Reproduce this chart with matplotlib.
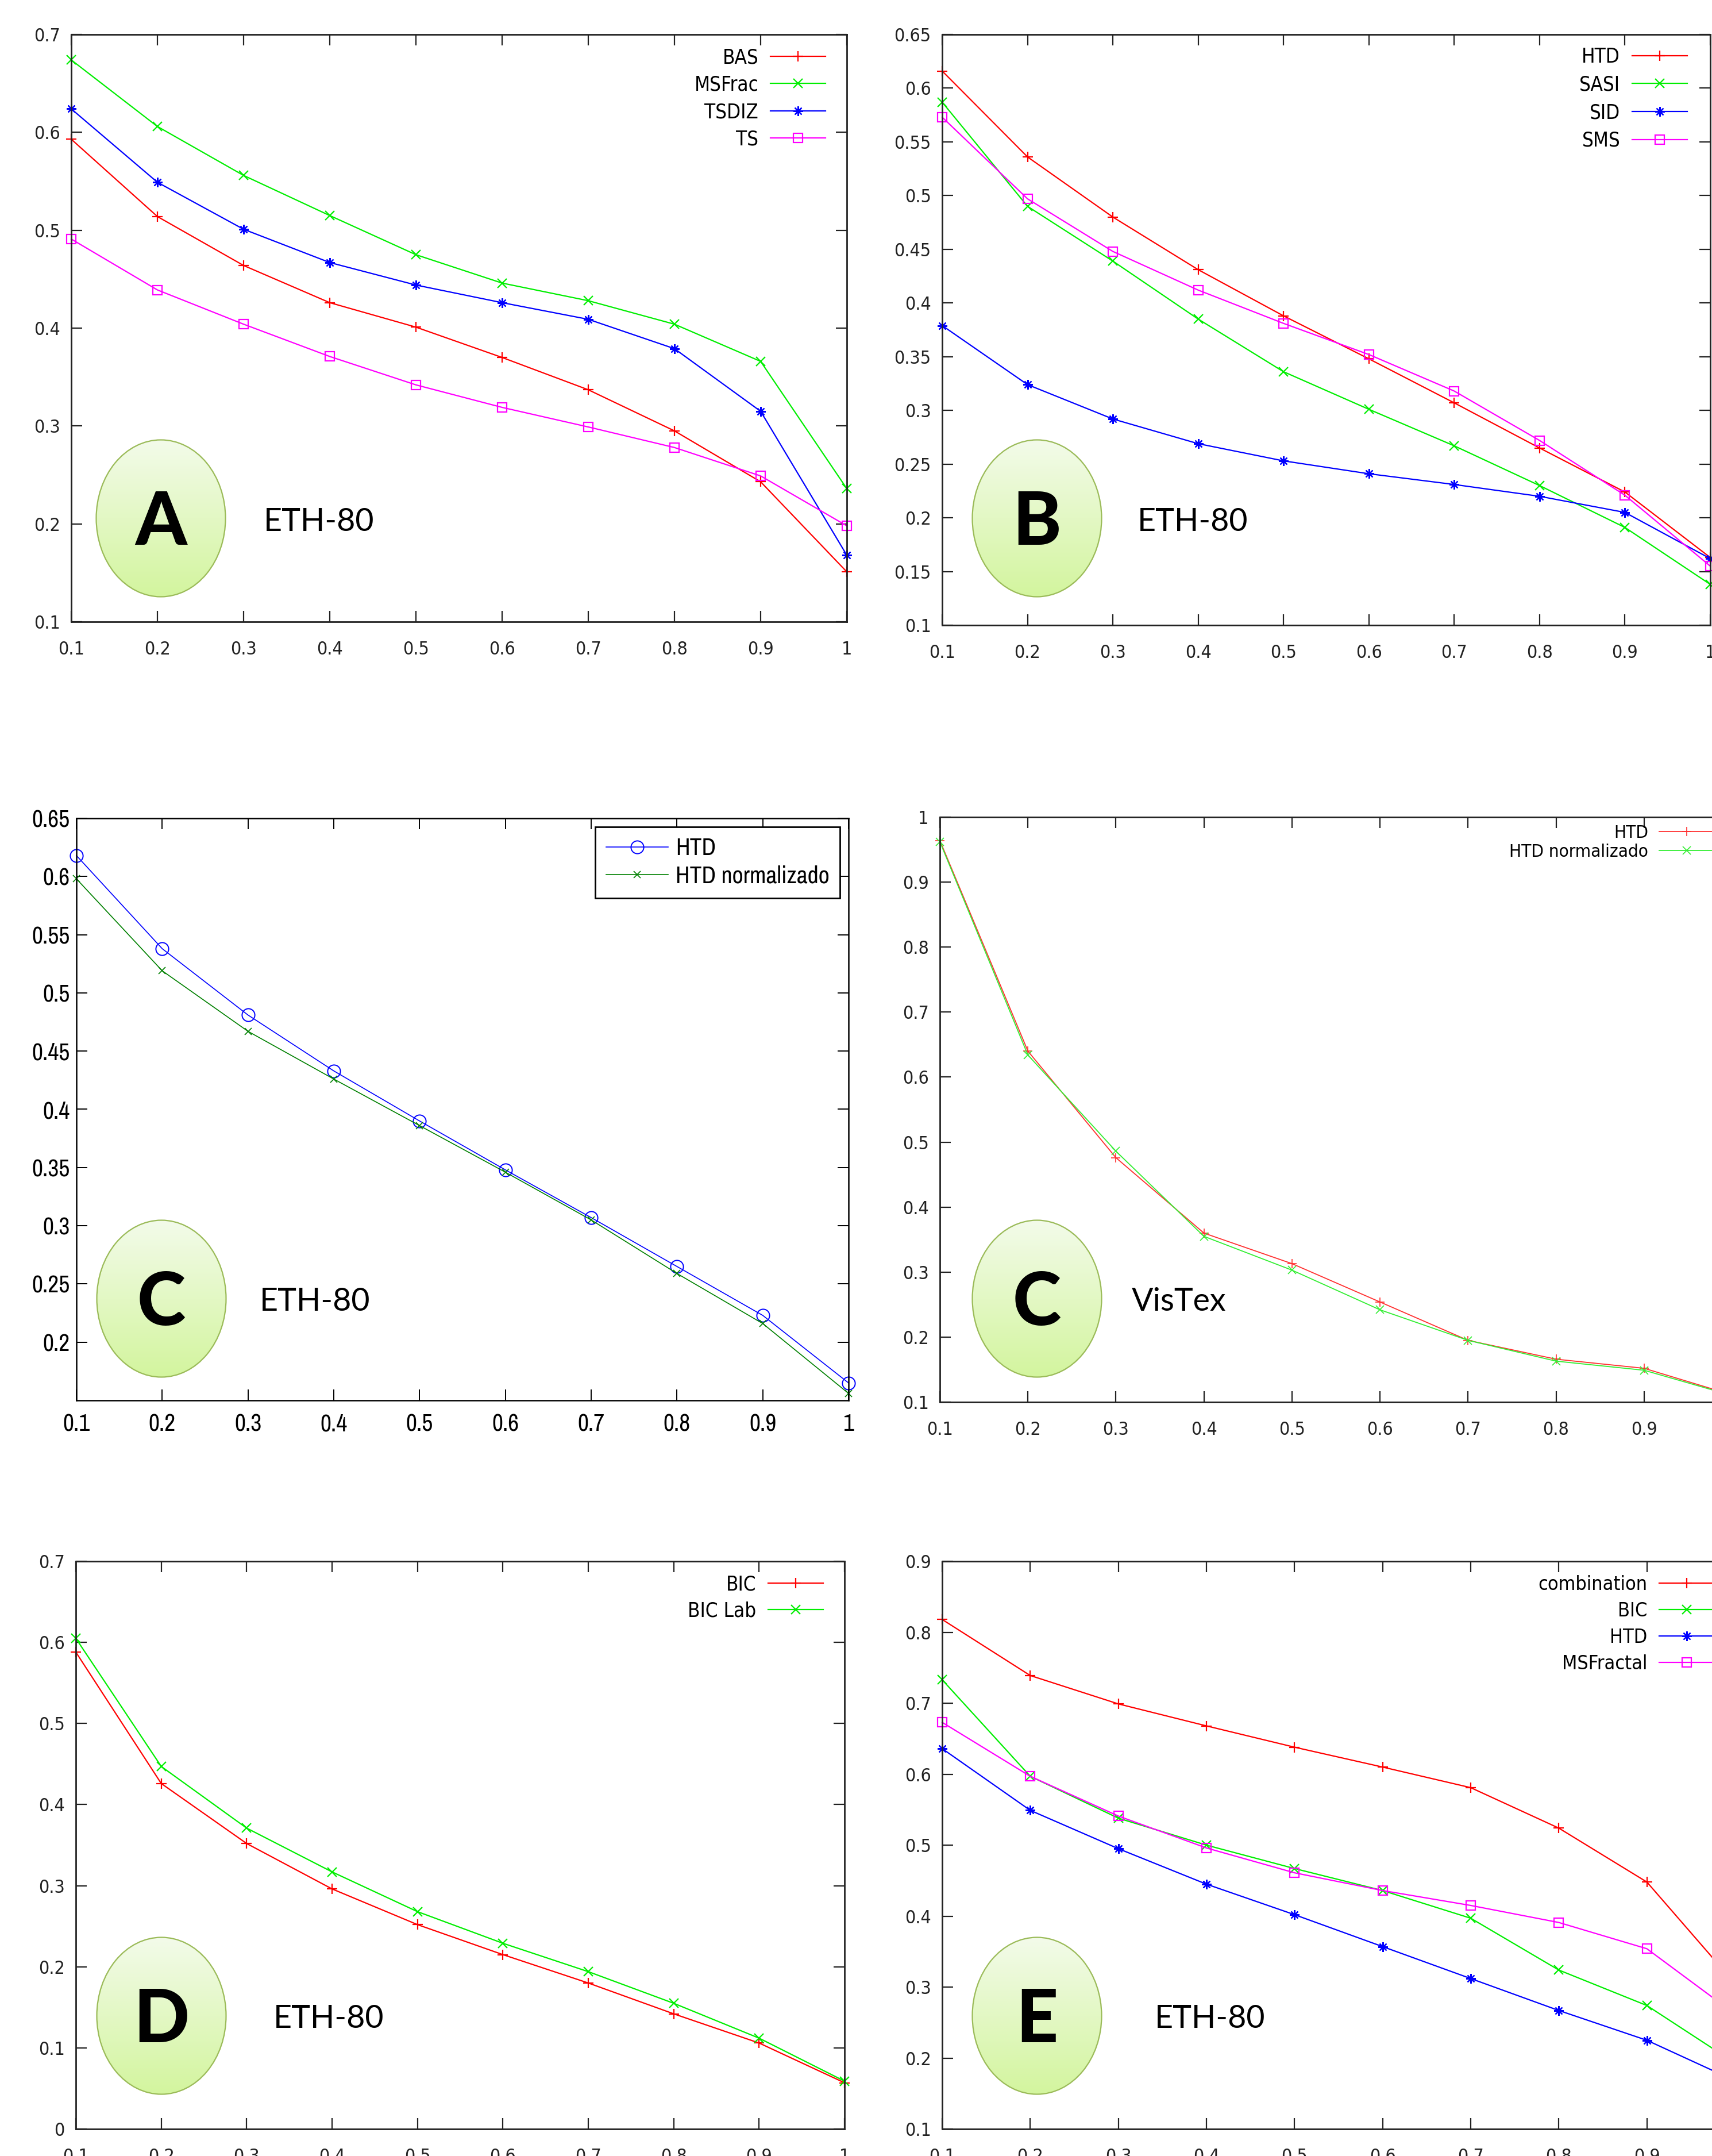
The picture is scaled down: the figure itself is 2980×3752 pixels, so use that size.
import matplotlib
matplotlib.use("Agg")
import matplotlib.pyplot as plt
import numpy as np
from matplotlib.patches import Ellipse
from matplotlib.ticker import FuncFormatter
from matplotlib.colors import LinearSegmentedColormap

W, H = 2980, 3752

recall = [0.1, 0.2, 0.3, 0.4, 0.5, 0.6, 0.7, 0.8, 0.9, 1.0]

# panel A (ETH-80)
a_bas = [0.593, 0.514, 0.464, 0.426, 0.401, 0.370, 0.337, 0.295, 0.243, 0.151]
a_msfrac = [0.674, 0.606, 0.556, 0.515, 0.475, 0.446, 0.428, 0.404, 0.366, 0.236]
a_tsdiz = [0.624, 0.549, 0.501, 0.467, 0.444, 0.426, 0.409, 0.379, 0.315, 0.168]
a_ts = [0.491, 0.439, 0.404, 0.371, 0.342, 0.319, 0.299, 0.278, 0.249, 0.198]

# panel B (ETH-80)
b_htd = [0.616, 0.536, 0.480, 0.431, 0.388, 0.348, 0.307, 0.265, 0.224, 0.163]
b_sasi = [0.587, 0.490, 0.439, 0.385, 0.336, 0.301, 0.267, 0.230, 0.191, 0.138]
b_sid = [0.379, 0.324, 0.292, 0.269, 0.253, 0.241, 0.231, 0.220, 0.205, 0.162]
b_sms = [0.573, 0.497, 0.448, 0.412, 0.381, 0.352, 0.318, 0.272, 0.221, 0.155]

# panel C (ETH-80, matlab style)
c1_htd = [0.618, 0.538, 0.481, 0.433, 0.390, 0.348, 0.307, 0.265, 0.223, 0.165]
c1_norm = [0.598, 0.519, 0.467, 0.426, 0.386, 0.346, 0.305, 0.259, 0.216, 0.156]

# panel C (VisTex)
c2_htd = [0.964, 0.640, 0.476, 0.360, 0.313, 0.254, 0.195, 0.166, 0.152, 0.111]
c2_norm = [0.962, 0.634, 0.486, 0.355, 0.303, 0.242, 0.195, 0.163, 0.149, 0.110]

# panel D (ETH-80)
d_bic = [0.588, 0.426, 0.352, 0.296, 0.252, 0.215, 0.180, 0.142, 0.106, 0.057]
d_biclab = [0.605, 0.447, 0.371, 0.317, 0.268, 0.229, 0.194, 0.155, 0.112, 0.059]

# panel E (ETH-80)
e_comb = [0.818, 0.739, 0.699, 0.668, 0.638, 0.610, 0.581, 0.524, 0.448, 0.305]
e_bic = [0.733, 0.597, 0.538, 0.500, 0.467, 0.436, 0.397, 0.324, 0.274, 0.193]
e_htd = [0.636, 0.549, 0.495, 0.445, 0.402, 0.357, 0.312, 0.267, 0.225, 0.168]
e_msfractal = [0.673, 0.597, 0.541, 0.496, 0.461, 0.436, 0.415, 0.391, 0.354, 0.262]

RED, GREEN, BLUE, MAGENTA = '#ff0000', '#00ee00', '#0000ff', '#ff00ff'
ASTER = (8, 2, 0)

plt.rcParams['font.family'] = 'DejaVu Sans'
plt.rcParams['font.stretch'] = 'condensed'

fig = plt.figure(figsize=(W / 100, H / 100), dpi=100)
fmt = FuncFormatter(lambda v, p: f"{v:g}")


def rect(l, t, r, b):
    return [l / W, 1 - b / H, (r - l) / W, (b - t) / H]


def gnuplot_axes(box, ylim, yticks):
    ax = fig.add_axes(rect(*box))
    ax.set_xlim(0.1, 1.0)
    ax.set_ylim(*ylim)
    ax.set_xticks(recall)
    ax.set_yticks(yticks)
    ax.xaxis.set_major_formatter(fmt)
    ax.yaxis.set_major_formatter(fmt)
    ax.tick_params(direction='in', length=14, width=1.6, top=True, right=True,
                   labelsize=23, colors='#222222')
    ax.tick_params(axis='x', pad=24)
    ax.tick_params(axis='y', pad=14)
    for s in ax.spines.values():
        s.set_linewidth(2.0)
        s.set_color('#222222')
    ax.box_px = box
    return ax


def gline(ax, y, color, marker, label, ms=13):
    mfc = 'none' if marker == 's' else color
    ax.plot(recall, y, color=color, lw=1.6, marker=marker, ms=ms, mew=1.6,
            mfc=mfc, label=label, clip_on=False)


def glegend(ax, size, spacing, dx, dy):
    # dx, dy: pixel offsets of the legend's top-right corner from the axes corner
    l, t, r, b = ax.box_px
    anchor = (1 - dx / (r - l), 1 - dy / (b - t))
    ax.legend(loc='upper right', bbox_to_anchor=anchor, frameon=False, markerfirst=False,
              fontsize=size, handlelength=96 / (size * 100 / 72), handletextpad=0.6,
              labelspacing=spacing, borderpad=0, borderaxespad=0)


# A
ax = gnuplot_axes((124, 60, 1474, 1082), (0.1, 0.7), [0.1, 0.2, 0.3, 0.4, 0.5, 0.6, 0.7])
gline(ax, a_bas, RED, '+', 'BAS')
gline(ax, a_msfrac, GREEN, 'x', 'MSFrac', ms=11)
gline(ax, a_tsdiz, BLUE, ASTER, 'TSDIZ', ms=12)
gline(ax, a_ts, MAGENTA, 's', 'TS', ms=11)
glegend(ax, 25, 0.39, 37, 23)

# B
ax = gnuplot_axes((1640, 60, 2977, 1088), (0.1, 0.65),
                  [0.1, 0.15, 0.2, 0.25, 0.3, 0.35, 0.4, 0.45, 0.5, 0.55, 0.6, 0.65])
gline(ax, b_htd, RED, '+', 'HTD')
gline(ax, b_sasi, GREEN, 'x', 'SASI', ms=11)
gline(ax, b_sid, BLUE, ASTER, 'SID', ms=12)
gline(ax, b_sms, MAGENTA, 's', 'SMS', ms=11)
glegend(ax, 25, 0.42, 40, 22)

# C left, matlab look
narrow = ['Archivo Narrow', 'PT Sans Narrow', 'DejaVu Sans']
ax = fig.add_axes(rect(133, 1424, 1477, 2437))
ax.set_xlim(0.1, 1.0)
ax.set_ylim(0.15, 0.65)
ax.set_xticks(recall)
ax.set_yticks([0.2, 0.25, 0.3, 0.35, 0.4, 0.45, 0.5, 0.55, 0.6, 0.65])
ax.xaxis.set_major_formatter(fmt)
ax.yaxis.set_major_formatter(fmt)
ax.tick_params(direction='in', length=14, width=1.4, top=True, right=True, labelsize=30)
ax.tick_params(axis='x', pad=16)
ax.tick_params(axis='y', pad=8)
for s in ax.spines.values():
    s.set_linewidth(1.8)
for lab in ax.get_xticklabels() + ax.get_yticklabels():
    lab.set_fontfamily(narrow)
ax.plot(recall, c1_htd, color='#0000ff', lw=1.2, marker='o', ms=16, mfc='none', mew=1.4,
        label='HTD', clip_on=False)
ax.plot(recall, c1_norm, color='#008000', lw=1.2, marker='x', ms=8, mew=1.2,
        label='HTD normalizado', clip_on=False)
leg = ax.legend(loc='upper right', fancybox=False, edgecolor='black', framealpha=1,
                prop={'family': narrow, 'size': 30},
                handlelength=2.6, handletextpad=0.3, labelspacing=0.25,
                borderpad=0.45, borderaxespad=0.35)
leg.get_frame().set_linewidth(2.0)

# C right (VisTex)
ax = gnuplot_axes((1636, 1422, 3015, 2440), (0.1, 1.0),
                  [0.1, 0.2, 0.3, 0.4, 0.5, 0.6, 0.7, 0.8, 0.9, 1.0])
ax.plot(recall, c2_htd, color='#ff3030', lw=1.3, marker='+', ms=11, mew=1.2, label='HTD',
        clip_on=False)
ax.plot(recall, c2_norm, color='#33ee33', lw=1.3, marker='x', ms=10, mew=1.2,
        label='HTD normalizado', clip_on=False)
glegend(ax, 22.5, 0.13, 31, 13)

# D
ax = gnuplot_axes((132, 2717, 1470, 3705), (0.0, 0.7), [0.0, 0.1, 0.2, 0.3, 0.4, 0.5, 0.6, 0.7])
gline(ax, d_bic, RED, '+', 'BIC')
gline(ax, d_biclab, GREEN, 'x', 'BIC Lab', ms=11)
glegend(ax, 25, 0.36, 37, 23)

# E
ax = gnuplot_axes((1640, 2717, 3020, 3705), (0.1, 0.9),
                  [0.1, 0.2, 0.3, 0.4, 0.5, 0.6, 0.7, 0.8, 0.9])
gline(ax, e_comb, RED, '+', 'combination')
gline(ax, e_bic, GREEN, 'x', 'BIC', ms=11)
gline(ax, e_htd, BLUE, ASTER, 'HTD', ms=12)
gline(ax, e_msfractal, MAGENTA, 's', 'MSFractal', ms=11)
glegend(ax, 24.5, 0.38, 36, 24)

# overlay in pixel coordinates for the panel badges
ov = fig.add_axes([0, 0, 1, 1], zorder=20)
ov.patch.set_visible(False)
ov.axis('off')
badge_cmap = LinearSegmentedColormap.from_list('badge', ['#f3fbea', '#d3f59e'])
grad = np.linspace(0, 1, 256).reshape(-1, 1)

badges = [
    ('A', 'ETH-80', 280, 902, 459, 924),
    ('B', 'ETH-80', 1805, 902, 1980, 924),
    ('C', 'ETH-80', 281, 2260, 452, 2281),
    ('C', 'VisTex', 1805, 2260, 1970, 2281),
    ('D', 'ETH-80', 281, 3508, 476, 3529),
    ('E', 'ETH-80', 1805, 3508, 2010, 3529),
]
for letter, name, cx, cy, tx, ty in badges:
    ell = Ellipse((cx, cy), 225, 273, facecolor='none', edgecolor='#9bbb59', lw=1.6, zorder=3)
    ov.add_patch(ell)
    img = ov.imshow(grad, cmap=badge_cmap, extent=(cx - 113, cx + 113, cy + 137, cy - 137),
                    aspect='auto', zorder=2)
    img.set_clip_path(ell)
    ov.text(cx, cy + 46, letter, ha='center', va='baseline', fontsize=92,
            family='Lato', weight='black', color='black', zorder=4)
    ov.text(tx, ty, name, ha='left', va='baseline', fontsize=40, family='Lato',
            color='black', zorder=4)
ov.set_xlim(0, W)
ov.set_ylim(H, 0)

fig.savefig('out.png', dpi=100)
